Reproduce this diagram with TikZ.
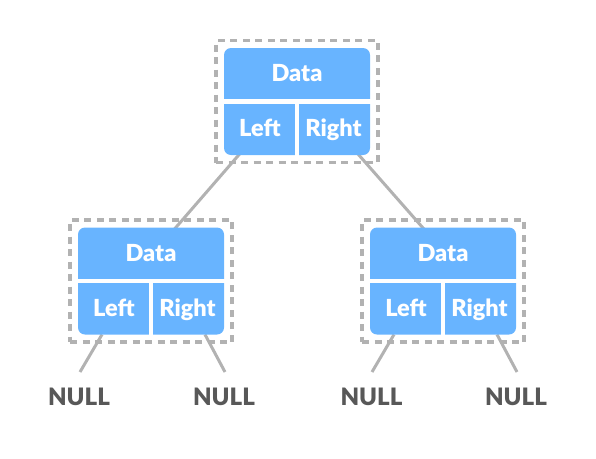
\documentclass[tikz,border=0pt]{standalone}
\usepackage{fontspec}
\setmainfont{Lato}[BoldFont={Lato Black}]
\usetikzlibrary{calc}
\definecolor{blk}{RGB}{104,180,255}
\definecolor{dashgray}{RGB}{178,178,178}
\definecolor{linegray}{RGB}{178,178,178}
\definecolor{nulltext}{RGB}{88,88,88}
\tikzset{
  blkbox/.style={fill=blk, draw=none, rounded corners=7pt, minimum width=146pt, minimum height=107pt, inner sep=0pt},
  divider/.style={draw=white, line width=4.5pt},
  sepbox/.style={draw=dashgray, line width=3.8pt, dash pattern=on 7pt off 5.5pt},
  lbl/.style={text=white, font=\bfseries\fontsize{23.5}{23.5}\selectfont, inner sep=0pt, anchor=base},
  nulllbl/.style={text=nulltext, font=\bfseries\fontsize{24}{24}\selectfont, inner sep=0pt, anchor=base},
  conn/.style={draw=linegray, line width=3pt},
}
\newcommand\treenode[3]{%
  \begin{scope}[shift={(#2,#3)}]
    \coordinate (#1-top) at (0,-53.5);
    \coordinate (#1-bl) at (-49,53.5);
    \coordinate (#1-br) at (54,53.5);
    \coordinate (#1-endl) at (-71,91);
    \coordinate (#1-endr) at (74,91);
  \end{scope}}
\newcommand\treebox[3]{%
  \begin{scope}[shift={(#2,#3)}]
    \node[sepbox, minimum width=162pt, minimum height=122pt, inner sep=0pt] (#1-sep) at (0,0) {};
    \node[blkbox] (#1) at (0,0) {};
    \draw[divider] (-74,0) -- (74,0);
    \draw[divider] (0,0) -- (0,55);
    \node[lbl] (#1-data) at (0,-19.8) {Data};
    \node[lbl] (#1-left) at (-37,35.2) {Left};
    \node[lbl] (#1-right) at (36.5,35.2) {Right};
  \end{scope}}
\begin{document}
\begin{tikzpicture}[x=1pt,y=-1pt]
  \useasboundingbox (0,0) rectangle (596,458);
  \treenode{r}{297}{101.5}
  \treenode{a}{151}{281}
  \treenode{b}{443}{281}
  \coordinate (r-sl) at (243.5,149.5);
  \coordinate (a-el) at (171.5,232.5);
  \coordinate (r-sr) at (354,149.5);
  \coordinate (b-er) at (427,232.5);
  \draw[conn] (r-sl) -- (a-el);
  \draw[conn] (r-sr) -- (b-er);
  \draw[conn] (a-bl) -- (a-endl);
  \draw[conn] (a-br) -- (a-endr);
  \draw[conn] (b-bl) -- (b-endl);
  \draw[conn] (b-br) -- (b-endr);
  \treebox{r}{297}{101.5}
  \treebox{a}{151}{281}
  \treebox{b}{443}{281}
  \node[nulllbl] (n1) at (79,405) {NULL};
  \node[nulllbl] (n2) at (224,405) {NULL};
  \node[nulllbl] (n3) at (371.5,405) {NULL};
  \node[nulllbl] (n4) at (516,405) {NULL};
\end{tikzpicture}
\end{document}
